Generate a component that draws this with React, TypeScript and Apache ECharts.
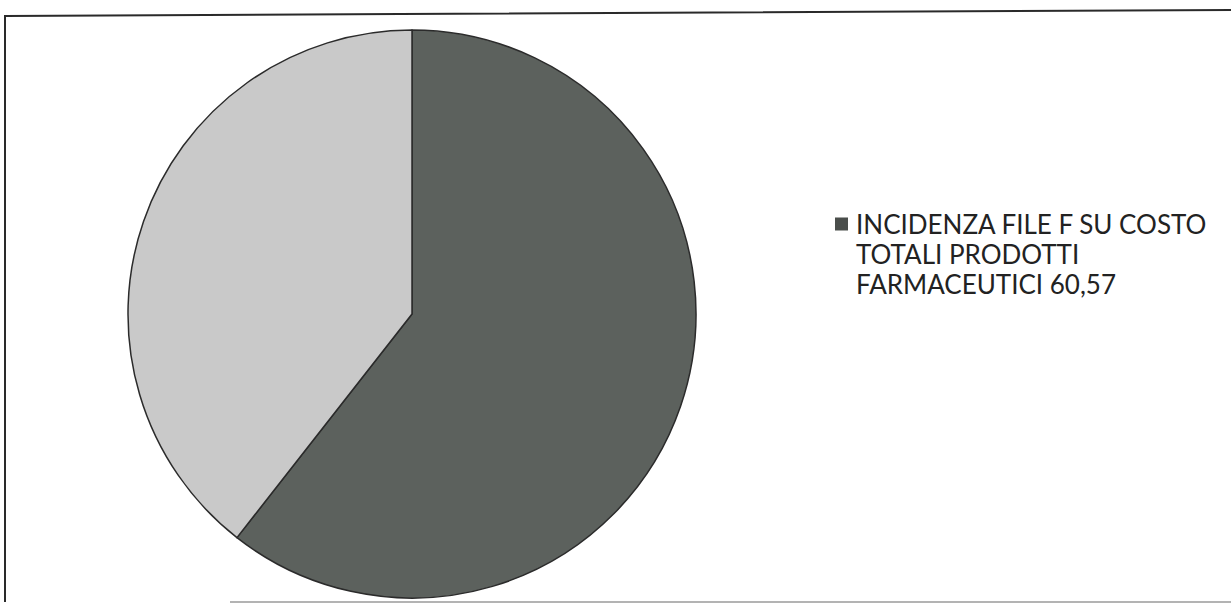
import React, { useEffect, useRef } from "react";
import * as echarts from "echarts";

const categories = [
  "INCIDENZA FILE F SU COSTO\nTOTALI PRODOTTI\nFARMACEUTICI 60,57",
  "ALTRO 39,43",
];
const values = [60.57, 39.43];
const colors = ["#5c615d", "#c9c9c9"];

export default function App() {
  const ref = useRef<HTMLDivElement>(null);
  useEffect(() => {
    if (!ref.current) return;
    const chart = echarts.init(ref.current, null, { renderer: "svg" });
    chart.setOption({
      animation: false,
      backgroundColor: "#ffffff",
      graphic: [
        {
          type: "polyline",
          shape: { points: [[5, 602], [5, 16], [400, 14], [1231, 10]] },
          style: { stroke: "#2a2a2a", lineWidth: 2, fill: "none" },
        },
        {
          type: "line",
          shape: { x1: 230, y1: 602, x2: 1231, y2: 602 },
          style: { stroke: "#9a9a9a", lineWidth: 1.5 },
        },
      ],
      legend: {
        data: [categories[0]],
        orient: "vertical",
        left: 830,
        top: 204,
        itemWidth: 13,
        itemHeight: 73,
        itemGap: 10,
        icon: "path://M0,0H13V13H0Z M6,72.99H6.01V73H6Z",
        itemStyle: { color: "#4a4e4b", borderWidth: 0 },
        textStyle: {
          fontFamily: "Lato",
          fontSize: 26,
          lineHeight: 30,
          color: "#222222",
          padding: [0, 0, 0, 3],
        },
      },
      series: [
        {
          type: "pie",
          center: [412, 314],
          radius: 284,
          startAngle: 90,
          clockwise: true,
          label: { show: false },
          labelLine: { show: false },
          itemStyle: { borderColor: "#2b2b2b", borderWidth: 1.5 },
          data: categories.map((name, i) => ({
            name,
            value: values[i],
            itemStyle: { color: colors[i] },
          })),
        },
      ],
    });
    return () => chart.dispose();
  }, []);
  return (
    <div
      ref={ref}
      style={{ position: "absolute", left: 0, top: 0, width: 1231, height: 611 }}
    />
  );
}
